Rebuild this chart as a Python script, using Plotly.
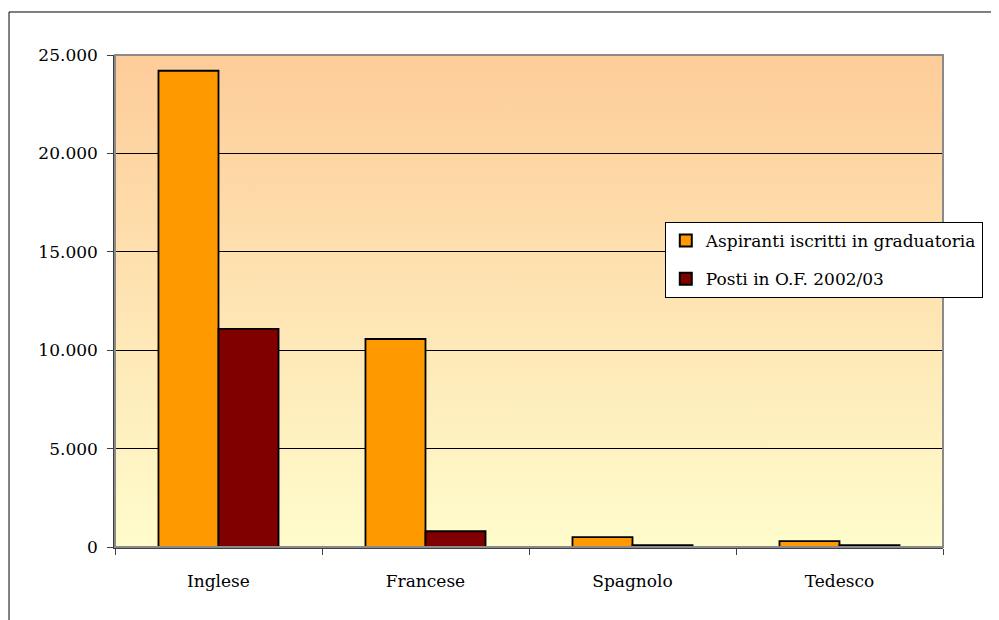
import base64
import plotly.graph_objects as go

categories = ["Inglese", "Francese", "Spagnolo", "Tedesco"]
aspiranti = [24200, 10570, 500, 300]
posti = [11080, 800, 100, 100]
series_names = ["Aspiranti iscritti in graduatoria", "Posti in O.F. 2002/03"]
y_ticks = [0, 5000, 10000, 15000, 20000, 25000]

FONT = "DejaVu Serif"
FS = 17

svg = (
    '<svg xmlns="http://www.w3.org/2000/svg" width="100" height="100" preserveAspectRatio="none">'
    '<defs><linearGradient id="g" x1="0" y1="0" x2="0" y2="1">'
    '<stop offset="0" stop-color="#FDCC99"/>'
    '<stop offset="1" stop-color="#FFFCCC"/>'
    '</linearGradient></defs>'
    '<rect x="0" y="0" width="100" height="100" fill="url(#g)"/></svg>'
)
bg_uri = "data:image/svg+xml;base64," + base64.b64encode(svg.encode()).decode()

fig = go.Figure()
fig.add_trace(go.Bar(
    x=categories, y=aspiranti, name=series_names[0], legendgroup="a",
    marker=dict(color="#FF9900", line=dict(color="black", width=1.8)),
))
fig.add_trace(go.Bar(
    x=categories, y=posti, name=series_names[1], legendgroup="b",
    marker=dict(color="#800000", line=dict(color="black", width=1.8)),
))

fig.update_layout(
    width=999, height=620,
    margin=dict(l=107, r=64, t=47, b=81),
    paper_bgcolor="white",
    plot_bgcolor="rgba(0,0,0,0)",
    separators=",.",
    barmode="group",
    bargap=0.42,
    bargroupgap=0,
    font=dict(family=FONT, size=FS, color="black"),
    showlegend=True,
    legend=dict(
        x=0.664, y=0.6605, xanchor="left", yanchor="top",
        bgcolor="white", bordercolor="black", borderwidth=1,
        font=dict(family=FONT, size=FS, color="black"),
        itemsizing="constant", traceorder="grouped", tracegroupgap=13,
        itemwidth=30,
    ),
    images=[dict(
        source=bg_uri, xref="paper", yref="paper", x=0, y=1,
        sizex=1, sizey=1, xanchor="left", yanchor="top",
        sizing="stretch", layer="below",
    )],
    shapes=[
        dict(type="rect", xref="paper", yref="paper", x0=0, x1=1, y0=0, y1=1,
             line=dict(color="#8A8A8A", width=2), fillcolor="rgba(0,0,0,0)", layer="above"),
        dict(type="rect", xref="paper", yref="paper", x0=-0.128, x1=1.2, y0=-0.3, y1=1.0874,
             line=dict(color="black", width=1), fillcolor="rgba(0,0,0,0)", layer="below"),
    ],
)

fig.update_xaxes(
    showline=True, linecolor="#404040", linewidth=1.5,
    ticks="outside", ticklen=6, tickcolor="#404040", tickson="boundaries",
    showgrid=False, tickfont=dict(family=FONT, size=FS, color="black"),
    ticklabelstandoff=18,
)
fig.update_yaxes(
    range=[0, 25000], tickvals=y_ticks, tickformat=",d",
    showline=True, linecolor="#404040", linewidth=1.5,
    ticks="outside", ticklen=6, tickcolor="#404040",
    showgrid=True, gridcolor="black", gridwidth=1,
    zeroline=False, tickfont=dict(family=FONT, size=FS, color="black"),
    ticklabelstandoff=6,
)

fig.write_html("out.html")
